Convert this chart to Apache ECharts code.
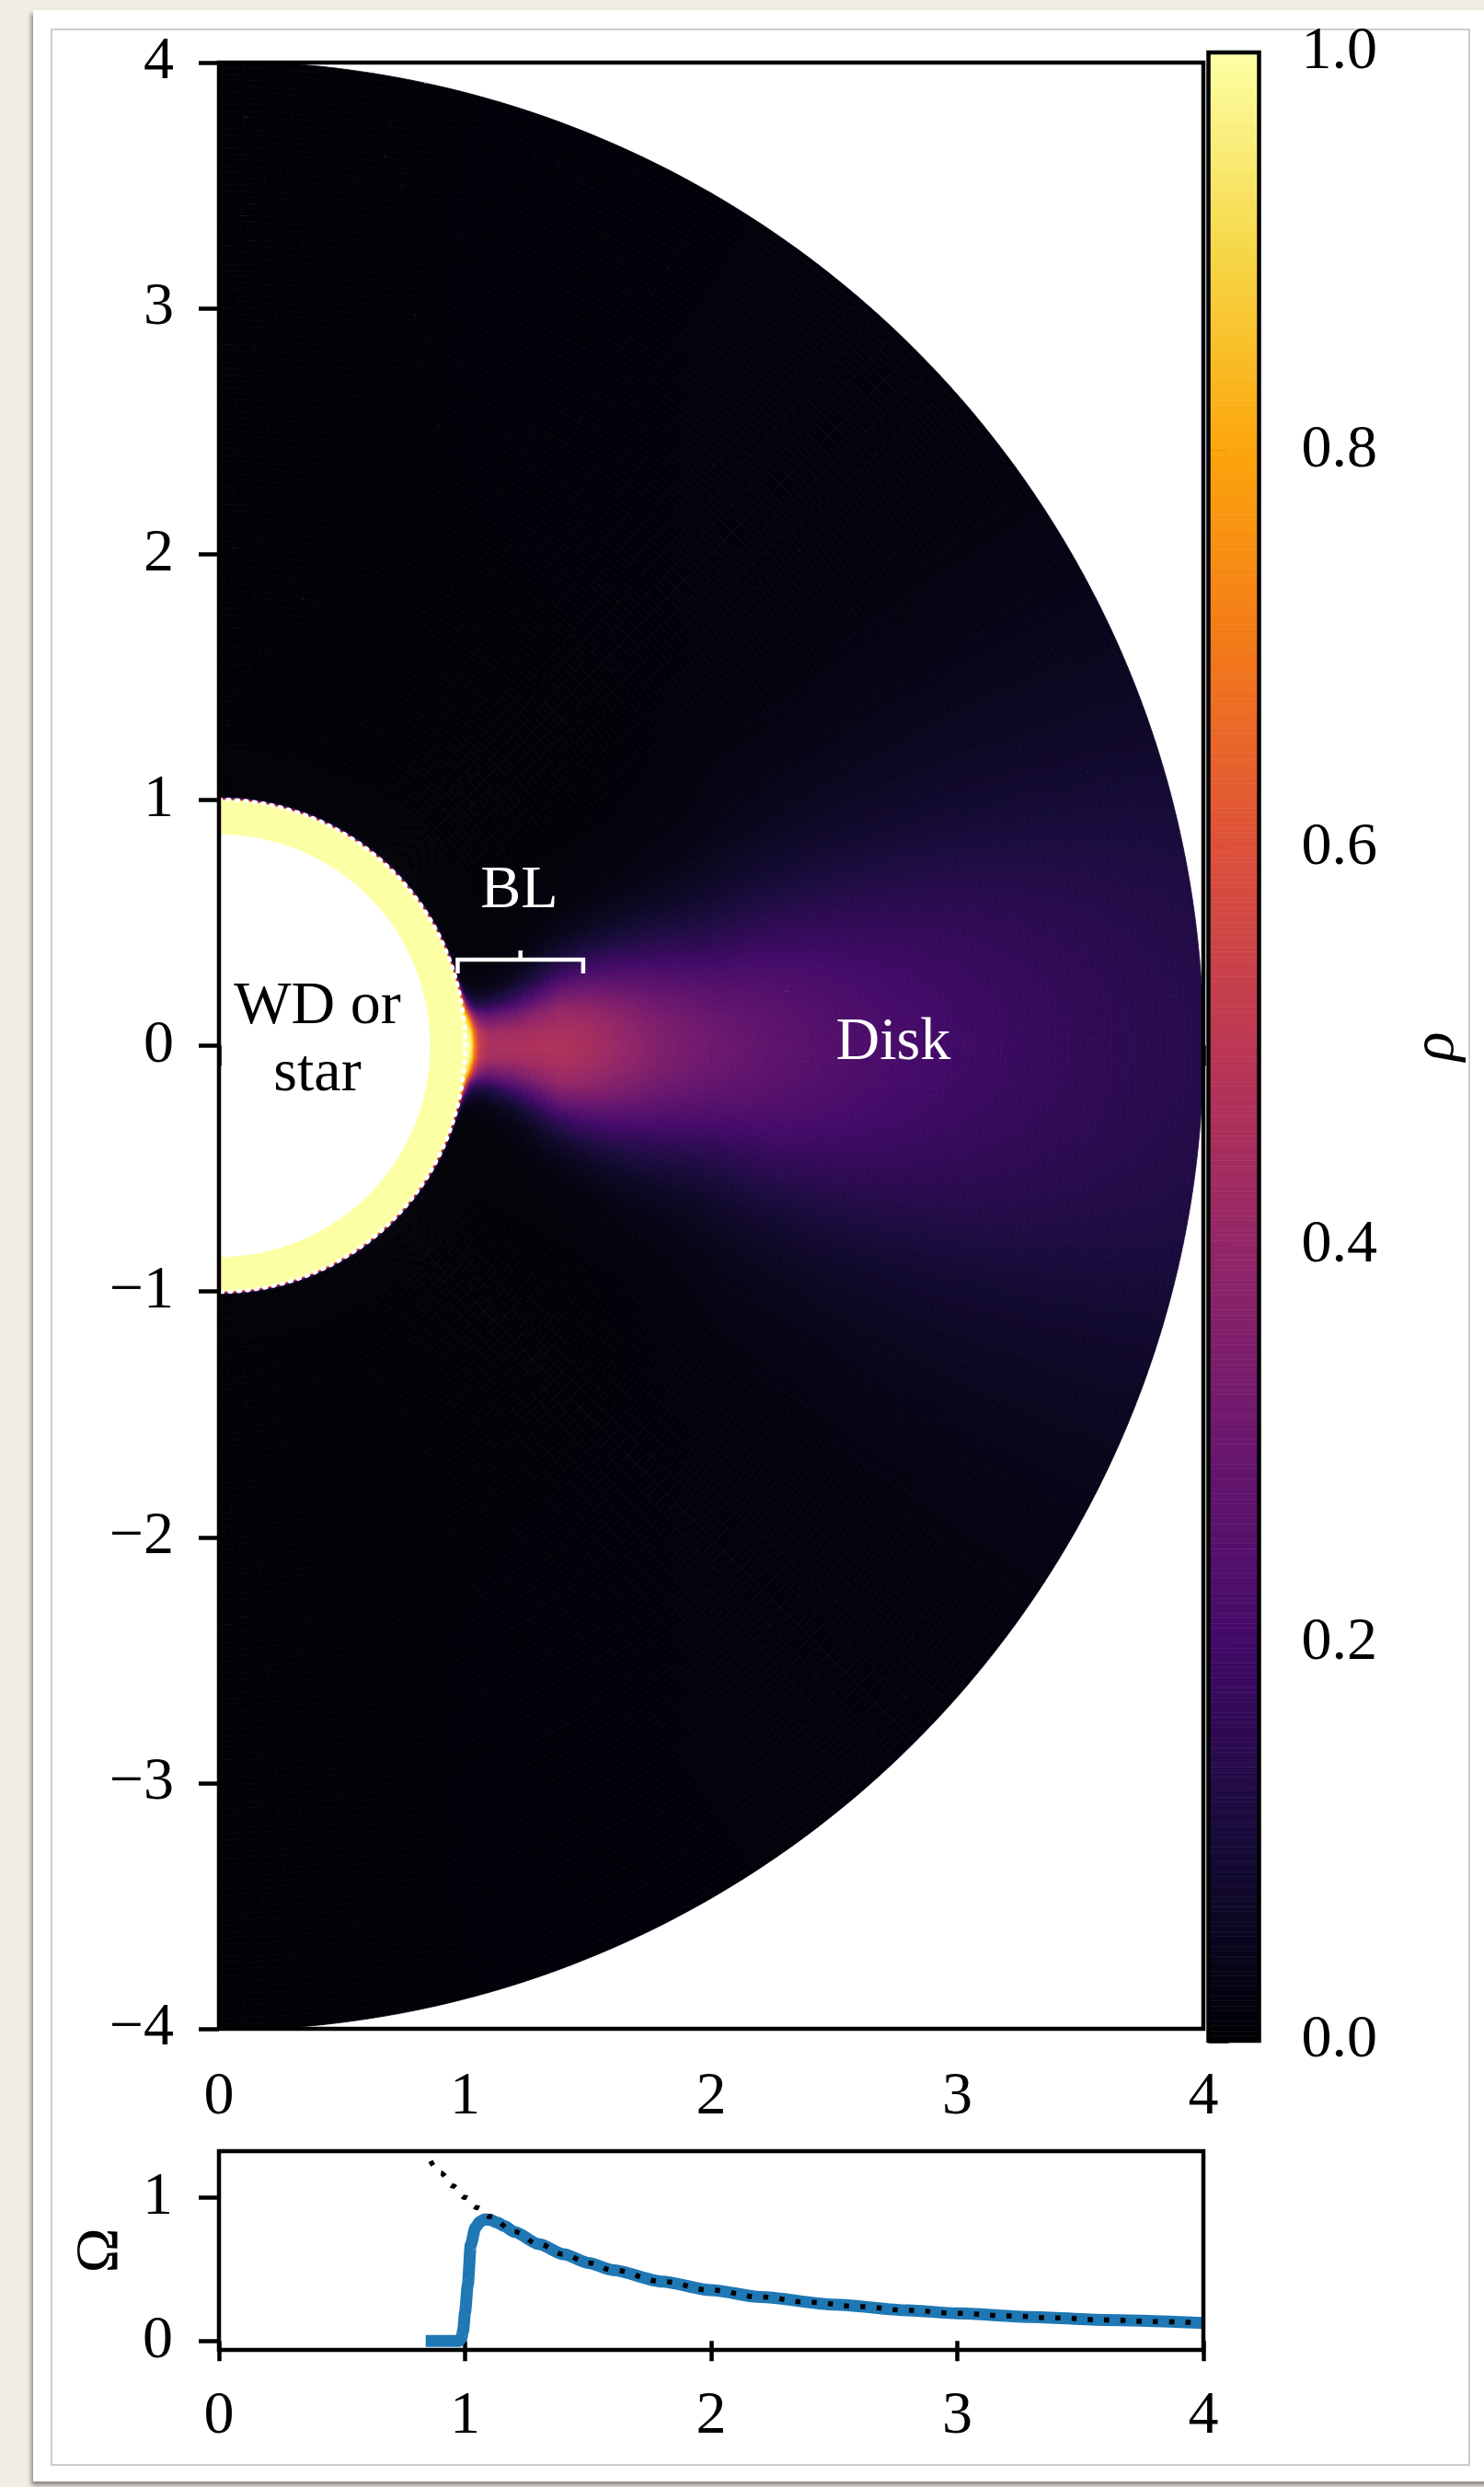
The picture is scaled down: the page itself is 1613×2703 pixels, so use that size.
<!DOCTYPE html>
<html>
<head>
<meta charset="utf-8">
<title>Boundary layer density and angular velocity</title>
<script src="https://cdn.jsdelivr.net/npm/echarts@6.0.0/dist/echarts.min.js"></script>
<style>
  html, body { margin: 0; padding: 0; }
  body { width: 1613px; height: 2703px; overflow: hidden; position: relative; background: #f2eee6; }
  #card { position: absolute; left: 36px; top: 11px; width: 1600px; height: 2686px; background: #ffffff;
          box-shadow: -2px 4px 5px rgba(0, 0, 0, 0.45); }
  #frame { position: absolute; left: 55px; top: 31px; width: 1543px; height: 2649px; box-sizing: border-box;
           border: 2px solid #cdcdcd; }
  #chart { position: absolute; left: 0; top: 0; width: 1613px; height: 2703px; }
</style>
</head>
<body>
<div id="card"></div>
<div id="frame"></div>
<div id="chart"></div>
<script>
// ---------------- data ----------------
const xTickValues = [0, 1, 2, 3, 4];
const yTickValues = [-4, -3, -2, -1, 0, 1, 2, 3, 4];
const colorbarTicks = [0, 0.2, 0.4, 0.6, 0.8, 1.0];
const omegaTicks = [0, 1];

// star: solid annulus between the inner cut and the surface
const starInnerRadius = 0.86;
const starSurfaceRadius = 1.0;
const starDensity = 1.0;

// gas density outside the star: rows are radii, columns are angular offsets from the midplane (deg)
const rhoRadii = [1.0, 1.006, 1.012, 1.02, 1.03, 1.04, 1.06, 1.1, 1.2, 1.3, 1.4, 1.5, 1.6, 1.8, 2.0, 2.3, 2.6, 3.0, 3.4, 3.7, 4.0];
const rhoAngles = [0, 3, 6, 9, 12, 15, 18, 22, 27, 33, 40, 90];
const rhoTable = [
  [1.00, 1.00, 0.99, 0.95, 0.88, 0.80, 0.80, 0.80, 0.80, 0.80, 0.80, 0.80],
  [1.00, 1.00, 0.97, 0.85, 0.60, 0.40, 0.35, 0.35, 0.35, 0.35, 0.35, 0.35],
  [1.00, 0.99, 0.93, 0.70, 0.35, 0.12, 0.04, 0.04, 0.04, 0.04, 0.04, 0.04],
  [0.99, 0.97, 0.85, 0.45, 0.15, 0.04, 0.015, 0.01, 0.008, 0.006, 0.006, 0.006],
  [0.93, 0.88, 0.65, 0.28, 0.08, 0.03, 0.012, 0.008, 0.006, 0.006, 0.006, 0.006],
  [0.72, 0.68, 0.50, 0.20, 0.06, 0.022, 0.01, 0.007, 0.006, 0.006, 0.006, 0.006],
  [0.53, 0.50, 0.36, 0.14, 0.045, 0.018, 0.008, 0.006, 0.006, 0.006, 0.006, 0.006],
  [0.46, 0.43, 0.30, 0.12, 0.04, 0.014, 0.007, 0.006, 0.006, 0.006, 0.006, 0.006],
  [0.46, 0.43, 0.32, 0.16, 0.06, 0.022, 0.009, 0.006, 0.006, 0.006, 0.006, 0.006],
  [0.47, 0.44, 0.37, 0.23, 0.11, 0.048, 0.018, 0.008, 0.006, 0.006, 0.006, 0.006],
  [0.47, 0.45, 0.41, 0.30, 0.17, 0.085, 0.035, 0.012, 0.007, 0.006, 0.006, 0.006],
  [0.45, 0.435, 0.39, 0.30, 0.19, 0.10, 0.045, 0.016, 0.008, 0.006, 0.006, 0.006],
  [0.42, 0.405, 0.36, 0.28, 0.19, 0.11, 0.055, 0.02, 0.01, 0.007, 0.006, 0.006],
  [0.35, 0.34, 0.30, 0.24, 0.17, 0.11, 0.06, 0.028, 0.013, 0.008, 0.006, 0.006],
  [0.31, 0.297, 0.263, 0.21, 0.15, 0.10, 0.062, 0.033, 0.017, 0.01, 0.007, 0.006],
  [0.265, 0.257, 0.236, 0.20, 0.158, 0.115, 0.078, 0.046, 0.027, 0.016, 0.01, 0.006],
  [0.228, 0.222, 0.207, 0.183, 0.152, 0.116, 0.083, 0.053, 0.032, 0.019, 0.012, 0.006],
  [0.195, 0.19, 0.18, 0.163, 0.14, 0.112, 0.083, 0.057, 0.036, 0.022, 0.013, 0.006],
  [0.168, 0.165, 0.158, 0.145, 0.127, 0.104, 0.08, 0.057, 0.038, 0.024, 0.014, 0.006],
  [0.15, 0.148, 0.142, 0.132, 0.117, 0.098, 0.077, 0.056, 0.038, 0.024, 0.014, 0.006],
  [0.135, 0.133, 0.128, 0.12, 0.108, 0.092, 0.074, 0.055, 0.038, 0.024, 0.014, 0.006]
];

// angular velocity in the midplane
const omegaR   = [0.84, 0.90, 0.95, 0.975, 0.985, 0.992, 1.0, 1.011, 1.023, 1.042, 1.06, 1.08, 1.10, 1.13, 1.16, 1.20,
                  1.3, 1.4, 1.5, 1.6, 1.8, 2.0, 2.2, 2.5, 2.8, 3.0, 3.3, 3.6, 4.0];
const omegaSim = [0, 0, 0, 0, 0.02, 0.07, 0.20, 0.39, 0.67, 0.79, 0.83, 0.848, 0.845, 0.825, 0.80, 0.76,
                  0.675, 0.604, 0.544, 0.494, 0.414, 0.354, 0.306, 0.253, 0.213, 0.192, 0.167, 0.146, 0.125];
// Keplerian reference
const keplerR     = [0.86, 0.90, 0.95, 1.0, 1.05, 1.1, 1.2, 1.3, 1.4, 1.5, 1.6, 1.8, 2.0, 2.2, 2.4, 2.6, 2.8, 3.0, 3.2, 3.4, 3.6, 3.8, 4.0];
const keplerOmega = [1.254, 1.171, 1.080, 1.0, 0.929, 0.867, 0.761, 0.675, 0.604, 0.544, 0.494, 0.414, 0.354, 0.306, 0.269, 0.239, 0.213, 0.192, 0.175, 0.160, 0.146, 0.135, 0.125];

// annotations (data coordinates)
const labelText = ['BL', 'Disk', 'WD or\nstar'];
const labelX = [1.22, 2.74, 0.40];
const labelY = [0.63, 0.01, 0.02];
const bracketFrom = 0.97, bracketTo = 1.48, bracketAt = 0.35;

// inferno colour ramp
const infernoStops = ['#000004', '#160b39', '#420a68', '#6a176e', '#932667', '#bc3754',
                      '#dd513a', '#f37819', '#fca50a', '#f6d746', '#fcffa4'];

// ---------------- helpers ----------------
const FONT = "'Liberation Serif', 'DejaVu Serif', serif";
const LINE = 4.5;

function locate(arr, v) {
  if (v <= arr[0]) return [0, 0];
  for (let i = 0; i < arr.length - 1; i++) {
    if (v <= arr[i + 1]) return [i, (v - arr[i]) / (arr[i + 1] - arr[i])];
  }
  return [arr.length - 2, 1];
}
// resample the density table at (r, angle) for drawing
function densityAt(r, deg) {
  const [i, fr] = locate(rhoRadii, r);
  const [j, fa] = locate(rhoAngles, Math.abs(deg));
  const a = rhoTable[i][j], b = rhoTable[i][j + 1];
  const c = rhoTable[i + 1][j], d = rhoTable[i + 1][j + 1];
  return (a * (1 - fa) + b * fa) * (1 - fr) + (c * (1 - fa) + d * fa) * fr;
}
function edges(segments) {
  const out = [segments[0][0]];
  segments.forEach(([a, b, s]) => {
    const n = Math.round((b - a) / s);
    for (let k = 1; k <= n; k++) out.push(a + (b - a) * k / n);
  });
  return out;
}

const radialEdges = edges([[1.0, 1.06, 0.003], [1.06, 1.2, 0.01], [1.2, 4.0, 0.025]]);
const angularEdges = edges([[-90, -30, 1.5], [-30, 30, 0.5], [30, 90, 1.5]]);

const cells = [[starInnerRadius, starSurfaceRadius, -90, 90, starDensity]];
for (let i = 0; i < radialEdges.length - 1; i++) {
  const r0 = radialEdges[i], r1 = radialEdges[i + 1];
  for (let j = 0; j < angularEdges.length - 1; j++) {
    const t0 = angularEdges[j], t1 = angularEdges[j + 1];
    cells.push([r0, r1, t0, t1, densityAt((r0 + r1) / 2, (t0 + t1) / 2)]);
  }
}

const colorbarCells = [];
const cbSteps = 400;
for (let k = 0; k < cbSteps; k++) {
  const lo = k / cbSteps, hi = (k + 1) / cbSteps;
  colorbarCells.push([lo, hi, (lo + hi) / 2]);
}

// ---------------- chart ----------------
const chart = echarts.init(document.getElementById('chart'), null, { renderer: 'canvas' });

const tickLabel = { fontFamily: FONT, fontSize: 66, color: '#000' };
const tickLine = { color: '#000', width: LINE };

const option = {
  animation: false,
  backgroundColor: 'transparent',
  grid: [
    { left: 238, top: 68, width: 1070, height: 2137, show: true, backgroundColor: 'transparent',
      borderColor: '#000', borderWidth: LINE, z: 10 },
    { left: 1313.5, top: 57, width: 55, height: 2161, show: true, backgroundColor: 'transparent',
      borderColor: '#000', borderWidth: LINE, z: 10 },
    { left: 238, top: 2338, width: 1070, height: 216, show: true, backgroundColor: 'transparent',
      borderColor: '#000', borderWidth: LINE, z: 10 }
  ],
  xAxis: [
    { gridIndex: 0, type: 'value', min: 0, max: 4, interval: 1,
      axisLine: { show: false }, splitLine: { show: false },
      axisTick: { length: 22, lineStyle: tickLine },
      axisLabel: Object.assign({ margin: 75, verticalAlign: 'middle', showMinLabel: true, showMaxLabel: true,
        customValues: xTickValues }, tickLabel) },
    { gridIndex: 1, type: 'value', min: 0, max: 1, show: false },
    { gridIndex: 2, type: 'value', min: 0, max: 4, interval: 1,
      axisLine: { show: false }, splitLine: { show: false },
      axisTick: { length: 22, lineStyle: tickLine },
      axisLabel: Object.assign({ margin: 73, verticalAlign: 'middle', showMinLabel: true, showMaxLabel: true,
        customValues: xTickValues }, tickLabel) }
  ],
  yAxis: [
    { gridIndex: 0, type: 'value', min: -4, max: 4, interval: 1,
      axisLine: { show: false }, splitLine: { show: false },
      axisTick: { length: 22, lineStyle: tickLine },
      axisLabel: Object.assign({ margin: 49, showMinLabel: true, showMaxLabel: true,
        customValues: yTickValues,
        formatter: v => String(v).replace('-', '\u2212') }, tickLabel) },
    { gridIndex: 1, type: 'value', min: 0, max: 1, interval: 0.2, position: 'right',
      axisLine: { show: false }, splitLine: { show: false },
      axisTick: { length: 22, lineStyle: tickLine, customValues: colorbarTicks },
      axisLabel: Object.assign({ margin: 46, showMinLabel: true, showMaxLabel: true,
        customValues: colorbarTicks, formatter: v => v.toFixed(1) }, tickLabel),
      name: '\u03c1', nameLocation: 'middle', nameRotate: 90, nameGap: 160,
      nameTextStyle: { fontFamily: FONT, fontSize: 66, fontStyle: 'italic', color: '#000' } },
    { gridIndex: 2, type: 'value', min: -0.063, max: 1.323,
      axisLine: { show: false }, splitLine: { show: false },
      axisTick: { length: 22, lineStyle: tickLine, customValues: omegaTicks },
      axisLabel: Object.assign({ margin: 50, showMinLabel: true, showMaxLabel: true,
        customValues: omegaTicks }, tickLabel),
      name: '\u03a9', nameLocation: 'middle', nameRotate: 90, nameGap: 95,
      nameTextStyle: { fontFamily: FONT, fontSize: 66, color: '#000' } }
  ],
  visualMap: [
    { type: 'continuous', show: false, min: 0, max: 1, dimension: 4, seriesIndex: 0,
      inRange: { color: infernoStops } },
    { type: 'continuous', show: false, min: 0, max: 1, dimension: 2, seriesIndex: 1,
      inRange: { color: infernoStops } }
  ],
  series: [
    // density map in the meridional plane
    { type: 'custom', xAxisIndex: 0, yAxisIndex: 0, progressive: 0, z: 2,
      data: cells,
      renderItem: (params, api) => {
        const c = api.coord([0, 0]);
        const r0 = api.size([api.value(0), 0])[0];
        const r1 = api.size([api.value(1), 0])[0];
        const t0 = api.value(2) * Math.PI / 180;
        const t1 = api.value(3) * Math.PI / 180;
        const col = api.visual('color');
        return { type: 'sector',
          shape: { cx: c[0], cy: c[1], r0: r0, r: r1, startAngle: -t1, endAngle: -t0, clockwise: true },
          style: { fill: col, stroke: col, lineWidth: 0.8 } };
      } },
    // colour bar
    { type: 'custom', xAxisIndex: 1, yAxisIndex: 1, progressive: 0, z: 2,
      data: colorbarCells,
      renderItem: (params, api) => {
        const p0 = api.coord([0, api.value(0)]);
        const p1 = api.coord([1, api.value(1)]);
        const col = api.visual('color');
        return { type: 'rect',
          shape: { x: p0[0], y: p1[1], width: p1[0] - p0[0], height: p0[1] - p1[1] },
          style: { fill: col, stroke: col, lineWidth: 0.6 } };
      } },
    // stellar surface
    { type: 'custom', xAxisIndex: 0, yAxisIndex: 0, z: 4,
      data: [[starSurfaceRadius]],
      renderItem: (params, api) => {
        const c = api.coord([0, 0]);
        const r = api.size([api.value(0), 0])[0];
        return { type: 'arc',
          shape: { cx: c[0], cy: c[1], r: r, startAngle: -Math.PI / 2, endAngle: Math.PI / 2, clockwise: true },
          style: { fill: null, stroke: '#ffffff', lineWidth: 4.5, lineDash: [2, 7.5], lineCap: 'round' } };
      } },
    // boundary-layer bracket
    { type: 'custom', xAxisIndex: 0, yAxisIndex: 0, z: 4,
      data: [[bracketFrom, bracketTo, bracketAt]],
      renderItem: (params, api) => {
        const a = api.coord([api.value(0), api.value(2)]);
        const b = api.coord([api.value(1), api.value(2)]);
        const m = api.coord([(api.value(0) + api.value(1)) / 2, api.value(2)]);
        const st = { fill: null, stroke: '#ffffff', lineWidth: 4.5, lineJoin: 'miter', lineCap: 'butt' };
        return { type: 'group', children: [
          { type: 'polyline', shape: { points: [[a[0], a[1] + 15], a, b, [b[0], b[1] + 15]] }, style: st },
          { type: 'line', shape: { x1: m[0], y1: m[1], x2: m[0], y2: m[1] - 10 }, style: st }
        ] };
      } },
    // region labels
    { type: 'custom', xAxisIndex: 0, yAxisIndex: 0, z: 5,
      data: labelX.map((x, i) => [x, labelY[i]]),
      renderItem: (params, api) => {
        const p = api.coord([api.value(0), api.value(1)]);
        const i = params.dataIndex;
        return { type: 'text', x: p[0], y: p[1],
          style: { text: labelText[i], fill: i === 2 ? '#000000' : '#ffffff',
                   font: '66px ' + FONT, align: 'center', verticalAlign: 'middle', lineHeight: 73 } };
      } },
    // simulated angular velocity
    { type: 'line', xAxisIndex: 2, yAxisIndex: 2, z: 3,
      data: omegaR.map((r, i) => [r, omegaSim[i]]),
      symbol: 'none', smooth: 0.25, smoothMonotone: 'x',
      lineStyle: { color: '#1f77b4', width: 13, cap: 'butt', join: 'round' } },
    // Keplerian reference
    { type: 'line', xAxisIndex: 2, yAxisIndex: 2, z: 4,
      data: keplerR.map((r, i) => [r, keplerOmega[i]]),
      symbol: 'none', smooth: 0.4, smoothMonotone: 'x',
      lineStyle: { color: '#000000', width: 5.5, type: [5.5, 12.2], cap: 'butt' } }
  ]
};

chart.setOption(option);
</script>
</body>
</html>
